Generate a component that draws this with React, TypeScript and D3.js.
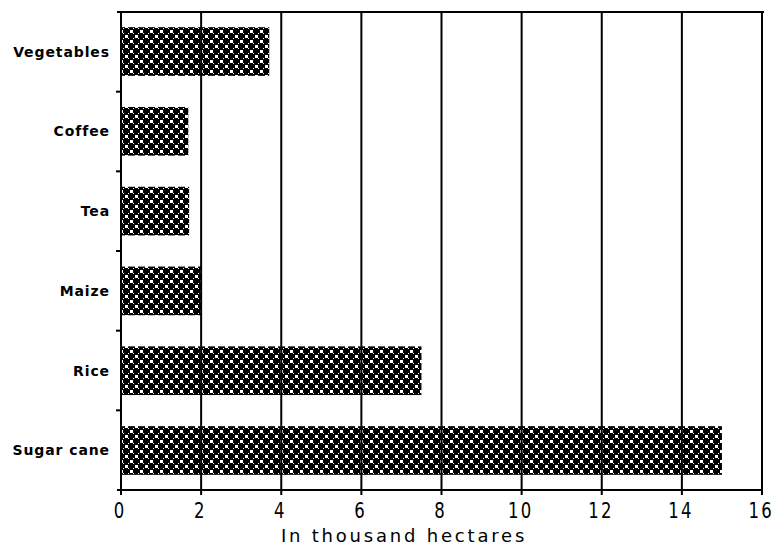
import React from "react";
import * as d3 from "d3";

const categories = ["Vegetables", "Coffee", "Tea", "Maize", "Rice", "Sugar cane"];
const values = [3.7, 1.68, 1.7, 2.0, 7.5, 15.0];
const xTicks = [0, 2, 4, 6, 8, 10, 12, 14, 16];
const axisTitle = "In thousand hectares";

const W = 780, H = 548;
const M = { left: 121, right: 18, top: 12, bottom: 58 };

export default function App() {
  const x = d3.scaleLinear().domain([0, 16]).range([M.left, W - M.right]);
  const y = d3.scaleBand().domain(categories).range([M.top, H - M.bottom]).paddingInner(0.39).paddingOuter(0.19);
  const outer = d3.scaleBand().domain(categories).range([M.top, H - M.bottom]);
  const font = "'DejaVu Sans', sans-serif";
  return (
    <svg width={W} height={H} style={{ position: "absolute", left: 0, top: 0, background: "#fff" }}>
      <defs>
        <pattern id="dots" width="10" height="10" patternUnits="userSpaceOnUse">
          <rect width="10" height="10" fill="#000" />
          <rect x="0" y="0" width="3" height="3" fill="#fff" />
          <rect x="5" y="5" width="3" height="3" fill="#fff" />
          <rect x="3" y="3" width="1" height="1" fill="#fff" />
          <rect x="8" y="3" width="1" height="1" fill="#fff" />
          <rect x="3" y="8" width="1" height="1" fill="#fff" />
          <rect x="8" y="8" width="1" height="1" fill="#fff" />
        </pattern>
      </defs>
      {categories.map((c, i) => (
        <rect key={c} x={x(0)} y={y(c)!} width={x(values[i]) - x(0)} height={y.bandwidth()} fill="url(#dots)" />
      ))}
      {xTicks.slice(1).map((t) => (
        <line key={t} x1={x(t)} x2={x(t)} y1={M.top} y2={H - M.bottom + 5} stroke="#000" strokeWidth={2} />
      ))}
      <line x1={x(0)} x2={x(0)} y1={M.top} y2={H - M.bottom + 5} stroke="#000" strokeWidth={2} />
      <line x1={x(0) - 4} x2={x(16) + 2} y1={M.top} y2={M.top} stroke="#000" strokeWidth={2} />
      <line x1={x(0) - 4} x2={x(16)} y1={H - M.bottom} y2={H - M.bottom} stroke="#000" strokeWidth={2} />
      {categories.slice(1).map((c) => (
        <line key={c} x1={x(0) - 5} x2={x(0)} y1={outer(c)!} y2={outer(c)!} stroke="#000" strokeWidth={2} />
      ))}
      {categories.map((c) => (
        <text key={c} x={110} y={y(c)! + y.bandwidth() / 2} textAnchor="end" dominantBaseline="central"
          fontFamily={font} fontSize={14} fontWeight="bold" letterSpacing={0.9}>{c}</text>
      ))}
      {xTicks.map((t) => (
        <text key={t} x={x(t) - 1} y={H - M.bottom + 28} textAnchor="middle" fontFamily={font} fontSize={22}
          letterSpacing={3}
          transform={`translate(${x(t)},0) scale(0.75,1) translate(${-x(t)},0)`}>{t}</text>
      ))}
      <text x={404} y={H - 6} textAnchor="middle" fontFamily={font} fontSize={18}
        letterSpacing={2.8}>{axisTitle}</text>
    </svg>
  );
}
